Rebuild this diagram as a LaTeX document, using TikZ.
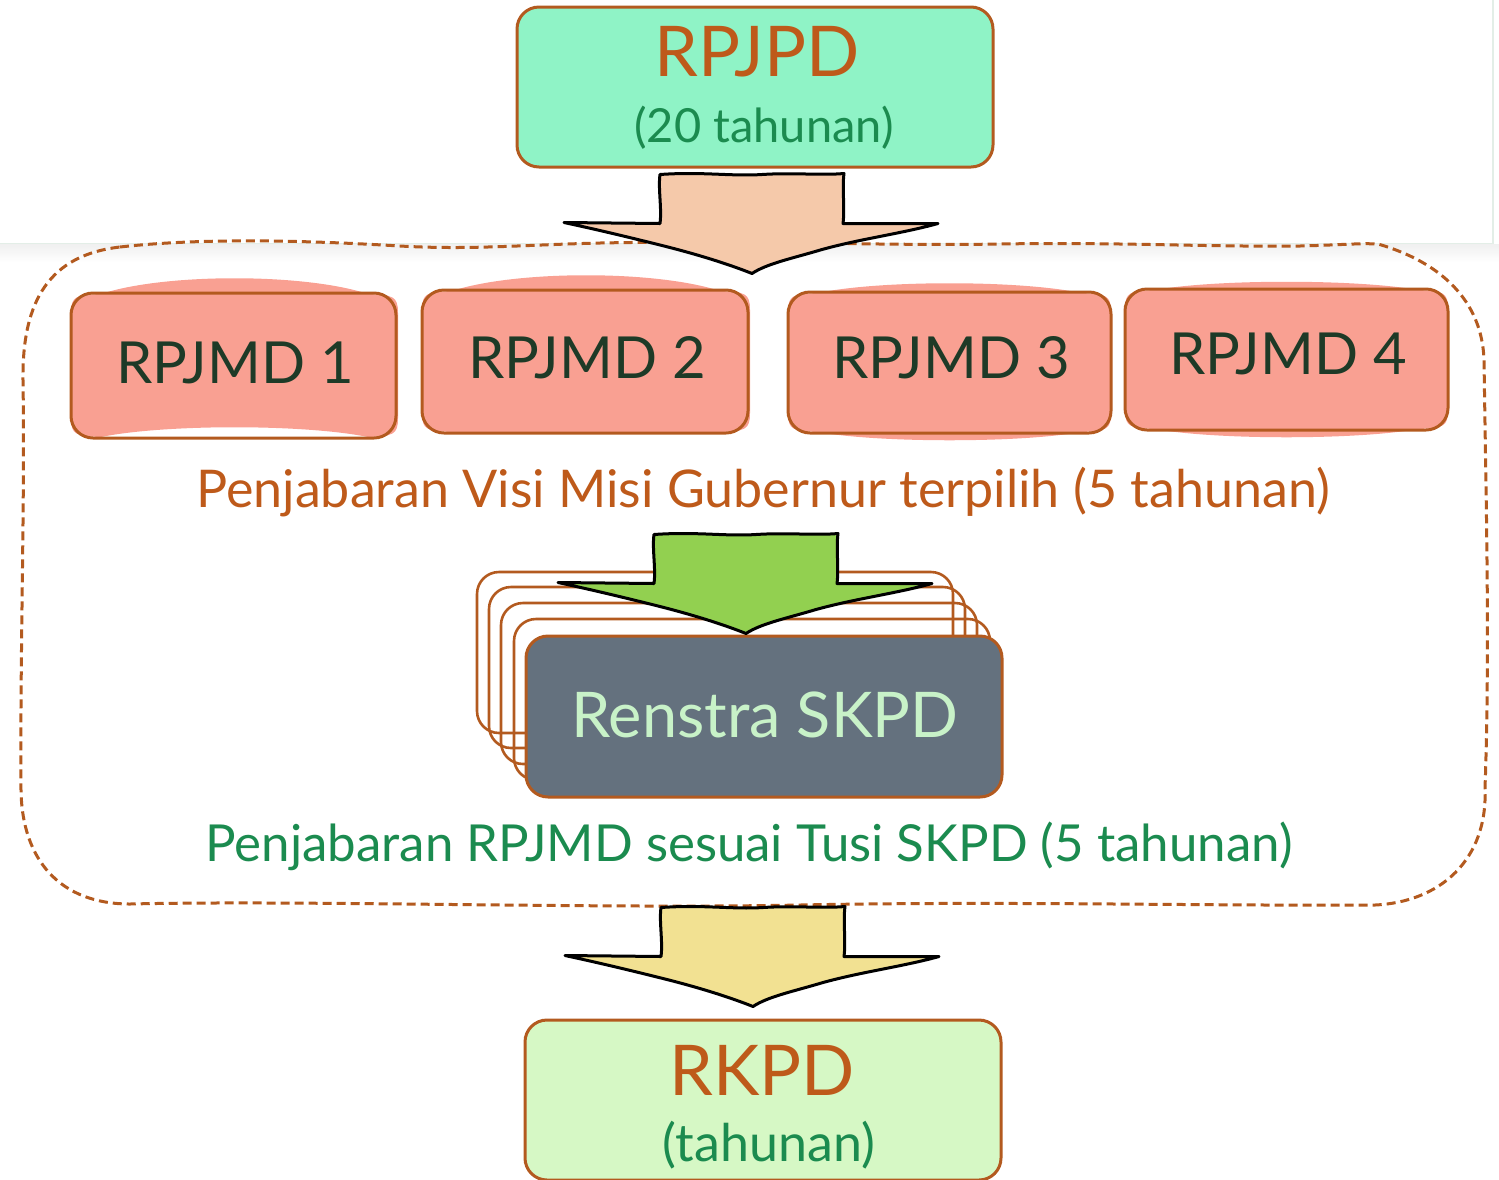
\documentclass[tikz,border=0pt]{standalone}
\usepackage{fontspec}
\setmainfont{Lato}
\usetikzlibrary{calc}
\definecolor{brownline}{HTML}{B35A1F}
\definecolor{browntext}{HTML}{BE5A1A}
\definecolor{greentext}{HTML}{1B8B4F}
\definecolor{darktext}{HTML}{1E3A27}
\definecolor{mint}{HTML}{8FF3C6}
\definecolor{peach}{HTML}{F5C9AA}
\definecolor{salmon}{HTML}{F9A092}
\definecolor{limeg}{HTML}{92D050}
\definecolor{slate}{HTML}{64717E}
\definecolor{paletext}{HTML}{C8F2C8}
\definecolor{sand}{HTML}{F2E192}
\definecolor{palegreen}{HTML}{D6F8C5}
\definecolor{panelline}{HTML}{E3EEE7}
\newcommand\ftitle{\fontsize{70}{74}\selectfont}
\newcommand\fsub{\fontsize{47}{52}\selectfont}
\newcommand\fsubb{\fontsize{52}{56}\selectfont}
\newcommand\fmid{\fontsize{58}{64}\selectfont}
\newcommand\fcapa{\fontsize{52}{56}\selectfont}
\newcommand\fcapb{\fontsize{51}{56}\selectfont}
\newcommand\fren{\fontsize{63}{70}\selectfont}
% salmon "sketch" fill behind an RPJMD outline: x1 y1 x2 y2 topbulge bottombulge
\newcommand\sketchfill[6]{%
  \fill[salmon] (#1,#2+20) .. controls (#1,#2+3) and (#1+5,#2+2) .. (#1+30,#2+1)
   .. controls ({(#1+#3)/2-70},{#2-(#5)}) and ({(#1+#3)/2+70},{#2-(#5)}) .. (#3-30,#2+1)
   .. controls (#3-5,#2+2) and (#3,#2+3) .. (#3,#2+20)
   -- (#3,#4-20) .. controls (#3,#4-3) and (#3-5,#4-2) .. (#3-30,#4-1)
   .. controls ({(#1+#3)/2+70},{#4-(#6)}) and ({(#1+#3)/2-70},{#4-(#6)}) .. (#1+30,#4-1)
   .. controls (#1+5,#4-2) and (#1,#4-3) .. (#1,#4-20) -- cycle;}
\tikzset{
  blockarrow/.pic={
    \filldraw[pic actions, draw=black, line width=3, line join=round]
      (-92,1) .. controls (-50,-2) and (-20,3) .. (10,1)
      .. controls (40,-1) and (70,2) .. (92,0)
      .. controls (90,15) and (93,35) .. (91,50)
      -- (186,50)
      .. controls (150,60) and (110,65) .. (70,76)
      .. controls (40,85) and (15,90) .. (0,100)
      .. controls (-20,92) and (-50,82) .. (-90,72)
      .. controls (-130,62) and (-160,55) .. (-188,49)
      -- (-92,50)
      .. controls (-90,35) and (-94,15) .. (-92,1) -- cycle;
  }
}
\begin{document}
\begin{tikzpicture}[x=1pt,y=-1pt,
  box/.style={draw=brownline, line width=3, rounded corners=22, inner sep=0pt},
  txt/.style={anchor=base, inner sep=0pt}]
\useasboundingbox (0,0) rectangle (1499,1179);
% background panel at the top
\fill[top color=black!6, bottom color=white] (0,244) rectangle (1499,262);
\draw[panelline, line width=1.5] (0,243.5) -- (1493,243.5) -- (1493,0);
% dashed region
\draw[brownline, line width=3, dash pattern=on 9 off 5]
  (120,247) .. controls (200,238) and (300,240) .. (400,246)
  .. controls (470,250) and (520,245) .. (600,243)
  .. controls (750,240) and (880,246) .. (1000,244)
  .. controls (1120,242) and (1200,247) .. (1300,246)
  .. controls (1340,245) and (1360,243) .. (1378,244)
  .. controls (1440,262) and (1482,300) .. (1484,360)
  .. controls (1486,500) and (1490,650) .. (1485,788)
  .. controls (1488,860) and (1440,902) .. (1375,905)
  .. controls (1200,906) and (1000,901) .. (800,905)
  .. controls (600,909) and (300,900) .. (130,904)
  .. controls (60,904) and (22,860) .. (21,790)
  .. controls (20,650) and (25,500) .. (23,380)
  .. controls (22,300) and (50,255) .. (120,247) -- cycle;
% RPJPD
\node[box, fill=mint, minimum width=476, minimum height=160] (rpjpd) at (755,87) {};
\node[txt, font=\ftitle, text=browntext] (rpjpdT) at (757,76) {RPJPD};
\node[txt, font=\fsub, text=greentext] (rpjpdS) at (764,142) {(20 tahunan)};
% RPJMD boxes
\sketchfill{71}{293}{398}{438}{20}{14}
\sketchfill{422}{290}{750}{433}{20}{0}
\sketchfill{788}{292}{1111}{433}{12}{-10}
\sketchfill{1125}{289}{1448}{430}{10}{-10}
\node[box, minimum width=325, minimum height=145] (m1) at (233.5,365.5) {};
\node[box, minimum width=326, minimum height=143] (m2) at (585,361.5) {};
\node[box, minimum width=323, minimum height=141] (m3) at (949.5,362.5) {};
\node[box, minimum width=323, minimum height=141] (m4) at (1286.5,359.5) {};
\node[txt, font=\fmid, text=darktext] (m1T) at (235,383) {RPJMD 1};
\node[txt, font=\fmid, text=darktext] (m2T) at (587,378) {RPJMD 2};
\node[txt, font=\fmid, text=darktext] (m3T) at (951,378) {RPJMD 3};
\node[txt, font=\fmid, text=darktext] (m4T) at (1288,374) {RPJMD 4};
\pic[fill=peach] at ($(rpjpd.south)+(-3,5)$) {blockarrow};
\node[txt, font=\fcapa, text=browntext] (visi) at (763,507) {Penjabaran Visi Misi Gubernur terpilih (5 tahunan)};
% Renstra stack
\foreach \i/\dx/\dy in {1/-49/-64,2/-37/-49,3/-25/-33,4/-12/-17}
  \node[box, line width=2.6, minimum width=476, minimum height=161] (stack\i) at (764+\dx,716.5+\dy) {};
\node[box, fill=slate, minimum width=476, minimum height=161] (renstra) at (764,716.5) {};
\node[txt, font=\fren, text=paletext] (renstraT) at (765,737) {Renstra SKPD};
\pic[fill=limeg] at ($(renstra.north)+(-18,-101)$) {blockarrow};
\node[txt, font=\fcapb, text=greentext] (tusi) at (749,861) {Penjabaran RPJMD sesuai Tusi SKPD (5 tahunan)};
% RKPD
\node[box, fill=palegreen, minimum width=476, minimum height=160] (rkpd) at (763,1100) {};
\node[txt, font=\ftitle, text=browntext] (rkpdT) at (762,1095) {RKPD};
\node[txt, font=\fsubb, text=greentext] (rkpdS) at (769,1161) {(tahunan)};
\pic[fill=sand] at ($(rkpd.north)+(-10,-112)$) {blockarrow};
\end{tikzpicture}
\end{document}
